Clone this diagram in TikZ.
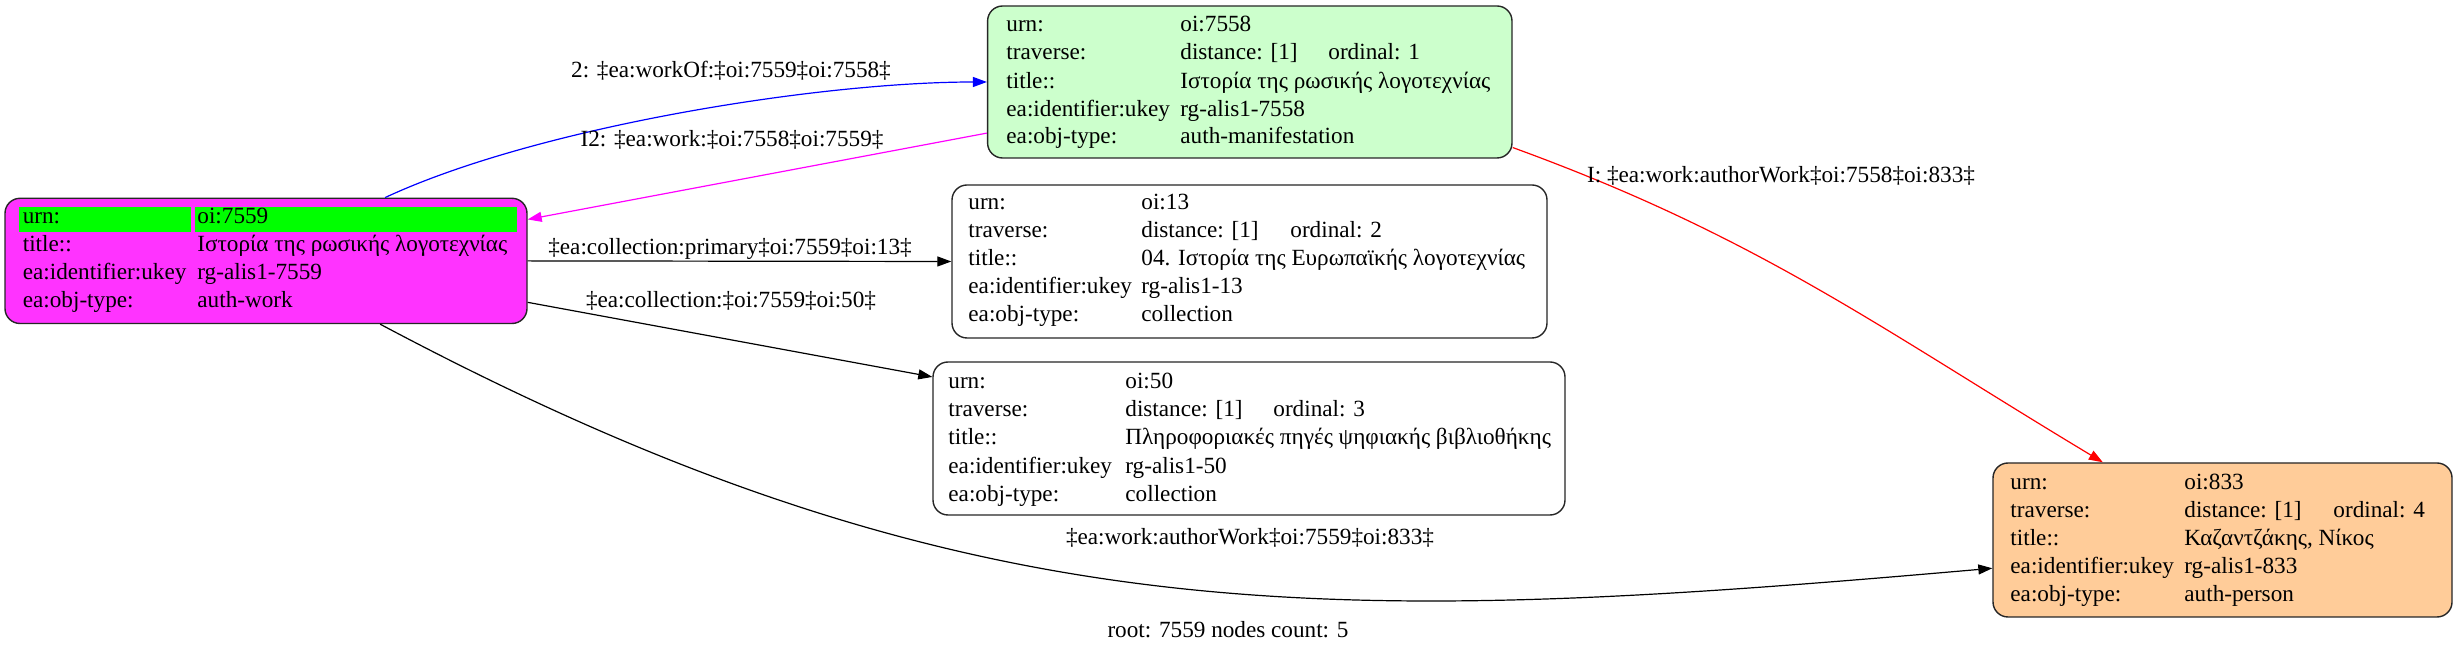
\documentclass[tikz,border=0pt]{standalone}
\usepackage{fontspec}
\setmainfont{Liberation Serif}
\usetikzlibrary{arrows.meta}
\definecolor{magfill}{HTML}{FF33FF}
\definecolor{greenfill}{HTML}{CCFFCC}
\definecolor{orangefill}{HTML}{FFCC99}
\definecolor{hilite}{HTML}{00FF00}
\definecolor{edgemag}{HTML}{FF00FF}
\definecolor{edgeblue}{HTML}{0000FF}
\definecolor{edgered}{HTML}{FF0000}
\newcommand\kv[6]{\node[txt] (#1k) at (#2,#4) {#5}; \node[txt] (#1v) at (#3,#4) {#6};}
\begin{document}
\begin{tikzpicture}[x=0.5pt,y=0.5pt,
  every node/.style={font=\fontsize{11.6}{14}\selectfont},
  box/.style={draw=black!85, line width=0.7pt, rounded corners=7.5pt, inner sep=0pt},
  txt/.style={anchor=base west, inner sep=0pt},
  lbl/.style={anchor=base, inner sep=0pt},
  edge/.style={line width=0.6pt, -{Triangle[length=7pt,width=5pt]}}]
\path[use as bounding box] (0,0) rectangle (2457,653);
% boxes
\node[box, fill=magfill, minimum width=261pt, minimum height=62.6pt] (n7559) at (266,392.1) {};
\node[box, fill=greenfill, minimum width=262.2pt, minimum height=76pt] (n7558) at (1249.8,571) {};
\node[box, fill=white, minimum width=297.5pt, minimum height=76.5pt] (n13) at (1249.5,391.5) {};
\node[box, fill=white, minimum width=316pt, minimum height=76.5pt] (n50) at (1249,214.5) {};
\node[box, fill=orangefill, minimum width=229.5pt, minimum height=77pt] (n833) at (2222.5,113) {};
% highlight
\fill[hilite] (19,421.3) rectangle (191,446.3);
\fill[hilite] (194.6,421.3) rectangle (516.5,446.3);
% node 7559
\kv{a1}{22.4}{197}{429.5}{urn:}{oi:7559}
\kv{a2}{22.4}{197}{401.5}{title::}{Ιστορία της ρωσικής λογοτεχνίας}
\kv{a3}{22.4}{197}{373.5}{ea:identifier:ukey}{rg-alis1-7559}
\kv{a4}{22.4}{197}{345.5}{ea:obj-type:}{auth-work}
% node 7558
\kv{b1}{1006}{1180}{621.3}{urn:}{oi:7558}
\kv{b2}{1006}{1180}{593}{traverse:}{distance: [1]}
\node[txt] (b2o) at (1328,593) {ordinal: 1};
\kv{b3}{1006}{1180}{564.7}{title::}{Ιστορία της ρωσικής λογοτεχνίας}
\kv{b4}{1006}{1180}{536.3}{ea:identifier:ukey}{rg-alis1-7558}
\kv{b5}{1006}{1180}{509.7}{ea:obj-type:}{auth-manifestation}
% node 13
\kv{c1}{968}{1141}{443}{urn:}{oi:13}
\kv{c2}{968}{1141}{415}{traverse:}{distance: [1]}
\node[txt] (c2o) at (1290,415) {ordinal: 2};
\kv{c3}{968}{1141}{387}{title::}{04. Ιστορία της Ευρωπαϊκής λογοτεχνίας}
\kv{c4}{968}{1141}{359}{ea:identifier:ukey}{rg-alis1-13}
\kv{c5}{968}{1141}{331}{ea:obj-type:}{collection}
% node 50
\kv{d1}{948}{1125}{264.7}{urn:}{oi:50}
\kv{d2}{948}{1125}{236.3}{traverse:}{distance: [1]}
\node[txt] (d2o) at (1273,236.3) {ordinal: 3};
\kv{d3}{948}{1125}{208}{title::}{Πληροφοριακές πηγές ψηφιακής βιβλιοθήκης}
\kv{d4}{948}{1125}{179.6}{ea:identifier:ukey}{rg-alis1-50}
\kv{d5}{948}{1125}{151.3}{ea:obj-type:}{collection}
% node 833
\kv{e1}{2010}{2184}{163}{urn:}{oi:833}
\kv{e2}{2010}{2184}{135}{traverse:}{distance: [1]}
\node[txt] (e2o) at (2333,135) {ordinal: 4};
\kv{e3}{2010}{2184}{107}{title::}{Καζαντζάκης, Νίκος}
\kv{e4}{2010}{2184}{79}{ea:identifier:ukey}{rg-alis1-833}
\kv{e5}{2010}{2184}{51}{ea:obj-type:}{auth-person}
% edges
\draw[edge, draw=edgeblue] (n7559.28) to[out=25, in=180, looseness=0.7] (n7558.west);
\draw[edge, draw=edgemag] (n7558.191.8) -- (n7559.9.3);
\draw[edge] (n7559.east) -- (n13.west);
\draw[edge] (n7559.-9.6) -- (n50.169.2);
\draw[edge] (n7559.-29.9) to[out=-28, in=185, looseness=1.05] (n833.187);
\draw[edge, draw=edgered] (n7558.-14.9) to[out=-20, in=149] (n833.147.8);
% labels
\node[lbl] (l1) at (731,575) {2: ‡ea:workOf:‡oi:7559‡oi:7558‡};
\node[lbl] (l2) at (732,506) {I2: ‡ea:work:‡oi:7558‡oi:7559‡};
\node[lbl] (l3) at (730,398) {‡ea:collection:primary‡oi:7559‡oi:13‡};
\node[lbl] (l4) at (731,345) {‡ea:collection:‡oi:7559‡oi:50‡};
\node[lbl] (l5) at (1250,108) {‡ea:work:authorWork‡oi:7559‡oi:833‡};
\node[lbl] (l6) at (1781,470) {I: ‡ea:work:authorWork‡oi:7558‡oi:833‡};
\node[lbl] (l7) at (1228,15) {root: 7559 nodes count: 5};
\end{tikzpicture}
\end{document}
